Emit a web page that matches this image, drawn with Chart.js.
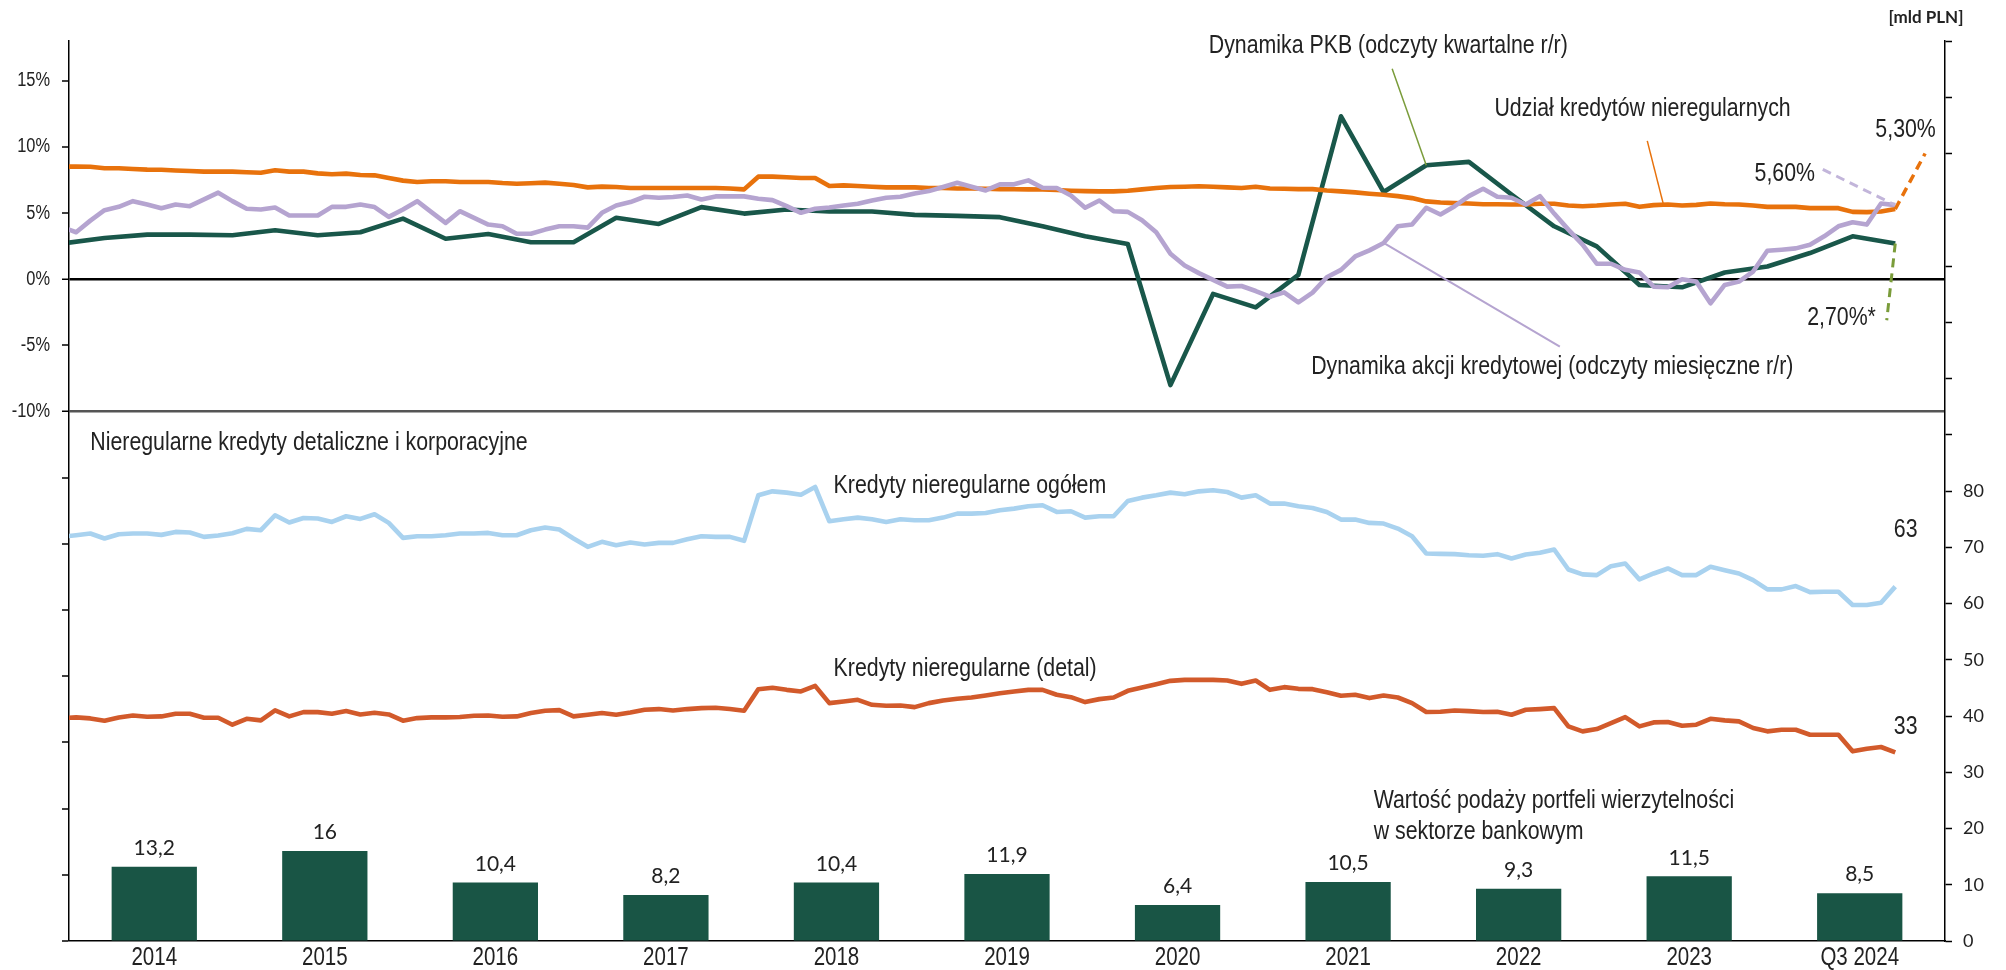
<!DOCTYPE html>
<html lang="pl">
<head>
<meta charset="utf-8">
<title>Kredyty nieregularne</title>
<script src="https://cdn.jsdelivr.net/npm/chart.js@4.4.1/dist/chart.umd.min.js"></script>
<style>
  html, body { margin: 0; padding: 0; background: #fff; }
  canvas { display: block; }
</style>
</head>
<body>
<canvas id="nplChart" width="2006" height="970"></canvas>
<script>
// --- dane ---
const years = ['2014', '2015', '2016', '2017', '2018', '2019', '2020', '2021', '2022', '2023', 'Q3 2024'];
// wartość podaży portfeli wierzytelności [mld PLN]
const portfolioSales = [13.2, 16, 10.4, 8.2, 10.4, 11.9, 6.4, 10.5, 9.3, 11.5, 8.5];

// miesięczne: XII 2013 .. IX 2024
const nplShare = [
  8.5,
  8.51, 8.5, 8.38, 8.38, 8.33, 8.28, 8.27, 8.22, 8.18, 8.13, 8.13, 8.13,
  8.08, 8.05, 8.23, 8.13, 8.13, 8.0, 7.93, 7.98, 7.88, 7.85, 7.65, 7.45,
  7.35, 7.4, 7.4, 7.35, 7.35, 7.35, 7.27, 7.22, 7.25, 7.3, 7.22, 7.12,
  6.94, 7.0, 6.97, 6.89, 6.89, 6.89, 6.89, 6.89, 6.89, 6.89, 6.86, 6.79,
  7.75, 7.75, 7.7, 7.65, 7.65, 7.04, 7.09, 7.04, 6.99, 6.94, 6.94, 6.94,
  6.89, 6.89, 6.86, 6.86, 6.84, 6.81, 6.8, 6.79, 6.78, 6.74, 6.69, 6.66,
  6.64, 6.64, 6.69, 6.79, 6.89, 6.97, 6.99, 7.02, 6.99, 6.94, 6.89, 6.99,
  6.86, 6.84, 6.81, 6.81, 6.71, 6.64, 6.56, 6.46, 6.38, 6.28, 6.13, 5.88,
  5.8, 5.75, 5.72, 5.67, 5.67, 5.65, 5.65, 5.7, 5.7, 5.57, 5.52, 5.57,
  5.65, 5.7, 5.47, 5.6, 5.65, 5.57, 5.62, 5.72, 5.67, 5.65, 5.57, 5.47,
  5.47, 5.47, 5.37, 5.37, 5.37, 5.09, 5.07, 5.12, 5.3
];
const creditGrowth = [
  3.95,
  3.55, 4.43, 5.22, 5.47, 5.9, 5.65, 5.37, 5.65, 5.52, 6.03, 6.54, 5.9,
  5.32, 5.27, 5.42, 4.81, 4.81, 4.81, 5.47, 5.47, 5.65, 5.45, 4.71, 5.27,
  5.9, 5.07, 4.26, 5.14, 4.64, 4.13, 4.0, 3.44, 3.44, 3.75, 4.0, 4.0,
  3.9, 5.02, 5.57, 5.83, 6.23, 6.16, 6.21, 6.33, 6.03, 6.26, 6.26, 6.26,
  6.08, 5.98, 5.52, 5.02, 5.32, 5.42, 5.57, 5.7, 5.95, 6.16, 6.23, 6.48,
  6.66, 6.97, 7.29, 6.99, 6.71, 7.17, 7.17, 7.47, 6.91, 6.89, 6.33, 5.4,
  5.95, 5.14, 5.09, 4.46, 3.55, 1.93, 1.04, 0.46, -0.05, -0.56, -0.51, -0.89,
  -1.32, -0.99, -1.75, -1.01, 0.15, 0.71, 1.72, 2.18, 2.74, 4.0, 4.13, 5.4,
  4.89, 5.52, 6.28, 6.84, 6.23, 6.16, 5.65, 6.28, 4.96, 3.75, 2.61, 1.17,
  1.17, 0.71, 0.51, -0.56, -0.61, 0.0, -0.18, -1.82, -0.43, -0.18, 0.58, 2.15,
  2.23, 2.33, 2.61, 3.24, 4.0, 4.31, 4.13, 5.72, 5.6
];
const nplTotal = [
  71.85,
  72.14, 72.44, 71.55, 72.32, 72.44, 72.44, 72.2, 72.73, 72.62, 71.85, 72.08, 72.5,
  73.27, 73.03, 75.69, 74.39, 75.21, 75.1, 74.5, 75.51, 75.04, 75.86, 74.33, 71.67,
  71.96, 71.96, 72.14, 72.44, 72.44, 72.55, 72.14, 72.14, 73.03, 73.5, 73.15, 71.55,
  70.07, 70.96, 70.37, 70.84, 70.49, 70.78, 70.78, 71.43, 71.96, 71.85, 71.85, 71.14,
  79.23, 79.94, 79.71, 79.35, 80.71, 74.62, 74.98, 75.27, 74.98, 74.5, 74.98, 74.8,
  74.8, 75.27, 75.98, 75.98, 76.1, 76.57, 76.87, 77.28, 77.46, 76.28, 76.4, 75.27,
  75.51, 75.51, 78.23, 78.82, 79.23, 79.71, 79.41, 79.94, 80.12, 79.82, 78.82, 79.23,
  77.76, 77.76, 77.28, 76.99, 76.28, 74.92, 74.92, 74.33, 74.21, 73.32, 71.96, 68.89,
  68.83, 68.77, 68.59, 68.48, 68.77, 68.0, 68.71, 69.01, 69.6, 66.05, 65.17, 65.05,
  66.64, 67.12, 64.28, 65.34, 66.23, 65.05, 65.05, 66.53, 65.93, 65.34, 64.16, 62.51,
  62.51, 63.1, 62.03, 62.09, 62.09, 59.73, 59.73, 60.14, 63.0
];
const nplRetail = [
  39.63,
  39.75, 39.57, 39.16, 39.75, 40.1, 39.87, 39.93, 40.4, 40.4, 39.69, 39.69, 38.45,
  39.51, 39.22, 40.99, 39.93, 40.69, 40.69, 40.4, 40.87, 40.28, 40.58, 40.28, 39.16,
  39.63, 39.75, 39.75, 39.81, 40.04, 40.1, 39.87, 39.93, 40.52, 40.93, 41.05, 39.93,
  40.22, 40.52, 40.22, 40.63, 41.11, 41.23, 40.99, 41.23, 41.4, 41.46, 41.23, 40.93,
  44.77, 45.01, 44.65, 44.36, 45.36, 42.29, 42.59, 42.88, 41.99, 41.82, 41.88, 41.58,
  42.29, 42.76, 43.06, 43.29, 43.65, 44.06, 44.36, 44.65, 44.65, 43.77, 43.35, 42.47,
  43.0, 43.29, 44.48, 45.07, 45.66, 46.25, 46.43, 46.43, 46.43, 46.31, 45.72, 46.31,
  44.65, 45.13, 44.83, 44.77, 44.24, 43.59, 43.77, 43.18, 43.65, 43.29, 42.29, 40.7,
  40.75, 40.99, 40.87, 40.7, 40.75, 40.22, 41.11, 41.23, 41.4, 38.15, 37.27, 37.68,
  38.74, 39.81, 38.15, 38.86, 38.92, 38.27, 38.45, 39.51, 39.22, 39.04, 37.86, 37.27,
  37.56, 37.56, 36.67, 36.67, 36.67, 33.72, 34.19, 34.49, 33.54
];
// kwartalne: IV kw. 2013 .. III kw. 2024
const gdpGrowth = [
  2.7,
  3.12, 3.37, 3.37, 3.32,
  3.7, 3.32, 3.55, 4.58,
  3.06, 3.42, 2.79, 2.79,
  4.64, 4.18, 5.45, 4.96,
  5.27, 5.12, 5.12, 4.86,
  4.79, 4.69, 4.0, 3.24,
  2.66, -8.0, -1.11, -2.13,
  0.33, 12.31, 6.59, 8.61,
  8.87, 6.4, 4.0, 2.48,
  -0.43, -0.61, 0.51, 0.96,
  1.98, 3.24, 2.7
];
const pctTicks = [-10, -5, 0, 5, 10, 15];
const mldTicks = [0, 10, 20, 30, 40, 50, 60, 70, 80];

// pozycja na osi miesięcy: 0 = początek 2014, punkt w środku miesiąca
const monthly = arr => arr.map((v, i) => ({ x: i - 0.5, y: v }));
const quarterly = arr => arr.map((v, j) => ({ x: j * 3 - 0.5, y: v }));

const SANS = '"Liberation Sans", Arial, sans-serif';
const PLAIN = 'Lato, "Open Sans", sans-serif';
const TXT = '#222';
const C = {
  green: '#19574a',
  orange: '#e8720c',
  lilac: '#b5a4d0',
  blue: '#a9d2ef',
  rust: '#d25a2b',
  olive: '#7a9c3a'
};

function line(label, data, color, axis, order) {
  return {
    type: 'line', label, data, xAxisID: 'xm', yAxisID: axis,
    borderColor: color, borderWidth: 4.6, pointRadius: 0,
    tension: 0, borderJoinStyle: 'round', order
  };
}

// tekst zwężony (krój typu "narrow")
function narrow(ctx, s, x, y, size, align, weight) {
  ctx.save();
  ctx.font = (weight || '') + ' ' + size + 'px ' + SANS;
  ctx.fillStyle = TXT;
  ctx.textAlign = align || 'left';
  ctx.textBaseline = 'middle';
  ctx.translate(x, y);
  ctx.scale(0.82, 1);
  ctx.fillText(s, 0, 0);
  ctx.restore();
}

// napisy, linie odniesienia i etykiety
const notes = {
  id: 'notes',
  afterDatasetsDraw(chart) {
    const { ctx, scales, chartArea } = chart;
    const X = t => scales.xm.getPixelForValue(t);
    const L = v => scales.yL.getPixelForValue(v);
    const R = v => scales.yR.getPixelForValue(v);
    const text = (s, x, y) => narrow(ctx, s, x, y, 26);
    const seg = (x1, y1, x2, y2, color, w, dash) => {
      ctx.save();
      ctx.strokeStyle = color;
      ctx.lineWidth = w;
      ctx.setLineDash(dash || []);
      ctx.beginPath();
      ctx.moveTo(x1, y1);
      ctx.lineTo(x2, y2);
      ctx.stroke();
      ctx.restore();
    };

    const last = nplShare.length - 1.5;
    const lastQ = (gdpGrowth.length - 1) * 3 - 0.5;

    // górny panel
    text('Dynamika PKB (odczyty kwartalne r/r)', X(80.2), L(17.6));
    seg(X(93.1), L(15.9), X(95.5), L(gdpGrowth[32]), C.olive, 1.5);
    text('Udział kredytów nieregularnych', X(100.3), L(12.9));
    seg(X(111.05), L(10.45), X(112.2), L(5.6), C.orange, 1.5);
    text('5,30%', X(127.1), L(11.3));
    seg(X(last), L(nplShare[nplShare.length - 1]), X(130.6), L(9.5), C.orange, 3.5, [9, 6]);
    text('5,60%', X(118.6), L(7.95));
    seg(X(123.4), L(8.3), X(last), L(creditGrowth[creditGrowth.length - 1]), '#c2b5da', 3, [9, 6]);
    text('2,70%*', X(122.3), L(-2.95));
    seg(X(lastQ), L(gdpGrowth[gdpGrowth.length - 1]), X(127.9), L(-3.1), C.olive, 3, [9, 6]);
    seg(X(92.5), L(creditGrowth[93]), X(104.9), L(-5.1), C.lilac, 2);
    text('Dynamika akcji kredytowej (odczyty miesięczne r/r)', X(87.4), L(-6.65));

    // dolny panel
    text('Nieregularne kredyty detaliczne i korporacyjne', X(1.5), R(88.5));
    text('Kredyty nieregularne ogółem', X(53.8), R(80.9));
    text('Kredyty nieregularne (detal)', X(53.8), R(48.4));
    text('63', X(128.4), R(73.1));
    text('33', X(128.4), R(38.0));
    text('Wartość podaży portfeli wierzytelności', X(91.8), R(24.9));
    text('w sektorze bankowym', X(91.8), R(19.4));

    // etykiety słupków
    chart.getDatasetMeta(0).data.forEach((bar, i) => {
      ctx.save();
      ctx.font = '21px ' + PLAIN;
      ctx.fillStyle = TXT;
      ctx.textAlign = 'center';
      ctx.textBaseline = 'bottom';
      ctx.fillText(String(portfolioSales[i]).replace('.', ','), bar.x, bar.y - 8);
      ctx.restore();
    });

    // opisy osi: lata i procenty
    scales.x.ticks.forEach((t, i) => {
      narrow(ctx, years[i], scales.x.getPixelForTick(i), chartArea.bottom + 17, 25, 'center');
    });
    pctTicks.forEach(v => {
      narrow(ctx, v + '%', scales.yL.right - 19, L(v), 20, 'right');
    });

    // jednostka prawej osi
    ctx.save();
    ctx.font = 'bold 17px ' + PLAIN;
    ctx.fillStyle = TXT;
    ctx.textAlign = 'center';
    ctx.textBaseline = 'middle';
    ctx.fillText('[mld PLN]', scales.yR.left - 19, chartArea.top - 23);
    ctx.restore();
  }
};

new Chart(document.getElementById('nplChart'), {
  type: 'bar',
  data: {
    labels: years,
    datasets: [
      {
        type: 'bar', label: 'Wartość podaży portfeli wierzytelności',
        data: portfolioSales, xAxisID: 'x', yAxisID: 'yR',
        backgroundColor: '#195545', barPercentage: 0.5, categoryPercentage: 1,
        grouped: false, order: 9
      },
      line('Dynamika akcji kredytowej', monthly(creditGrowth), C.lilac, 'yL', 0),
      line('Udział kredytów nieregularnych', monthly(nplShare), C.orange, 'yL', 1),
      line('Dynamika PKB', quarterly(gdpGrowth), C.green, 'yL', 2),
      line('Kredyty nieregularne ogółem', monthly(nplTotal), C.blue, 'yR', 3),
      line('Kredyty nieregularne (detal)', monthly(nplRetail), C.rust, 'yR', 4)
    ]
  },
  options: {
    responsive: false,
    animation: false,
    layout: { padding: { top: 41, left: 0, right: 0, bottom: 0 } },
    plugins: {
      legend: { display: false },
      tooltip: { enabled: false }
    },
    scales: {
      x: {
        type: 'category',
        offset: true,
        grid: { display: false, drawTicks: false },
        border: { display: true, color: '#000', width: 1.5 },
        ticks: { display: false },
        afterFit: s => { s.height = 29; }
      },
      xm: {
        type: 'linear', min: 0, max: 132, display: false,
        offset: false, grid: { offset: false }
      },
      yL: {
        type: 'linear', position: 'left', min: -50, max: 18,
        ticks: { stepSize: 5, includeBounds: false, display: false },
        grid: {
          color: c => c.tick && c.tick.value === 0 ? '#000' : (c.tick && c.tick.value === -10 ? '#555' : 'rgba(0,0,0,0)'),
          lineWidth: c => c.tick && (c.tick.value === 0 || c.tick.value === -10) ? 2.5 : 0,
          tickColor: '#000', tickWidth: 1.5, tickLength: 7
        },
        border: { color: '#000', width: 1.5 },
        afterFit: s => { s.width = 69; }
      },
      yR: {
        type: 'linear', position: 'right', min: 0, max: 160,
        ticks: {
          stepSize: 10, color: TXT, font: { family: PLAIN, size: 18 }, padding: 11,
          callback: v => mldTicks.includes(v) ? v : ''
        },
        grid: { drawOnChartArea: false, tickColor: '#000', tickWidth: 1.5, tickLength: 7 },
        border: { color: '#000', width: 1.5 },
        afterFit: s => { s.width = 61; }
      }
    }
  },
  plugins: [notes]
});
</script>
</body>
</html>
